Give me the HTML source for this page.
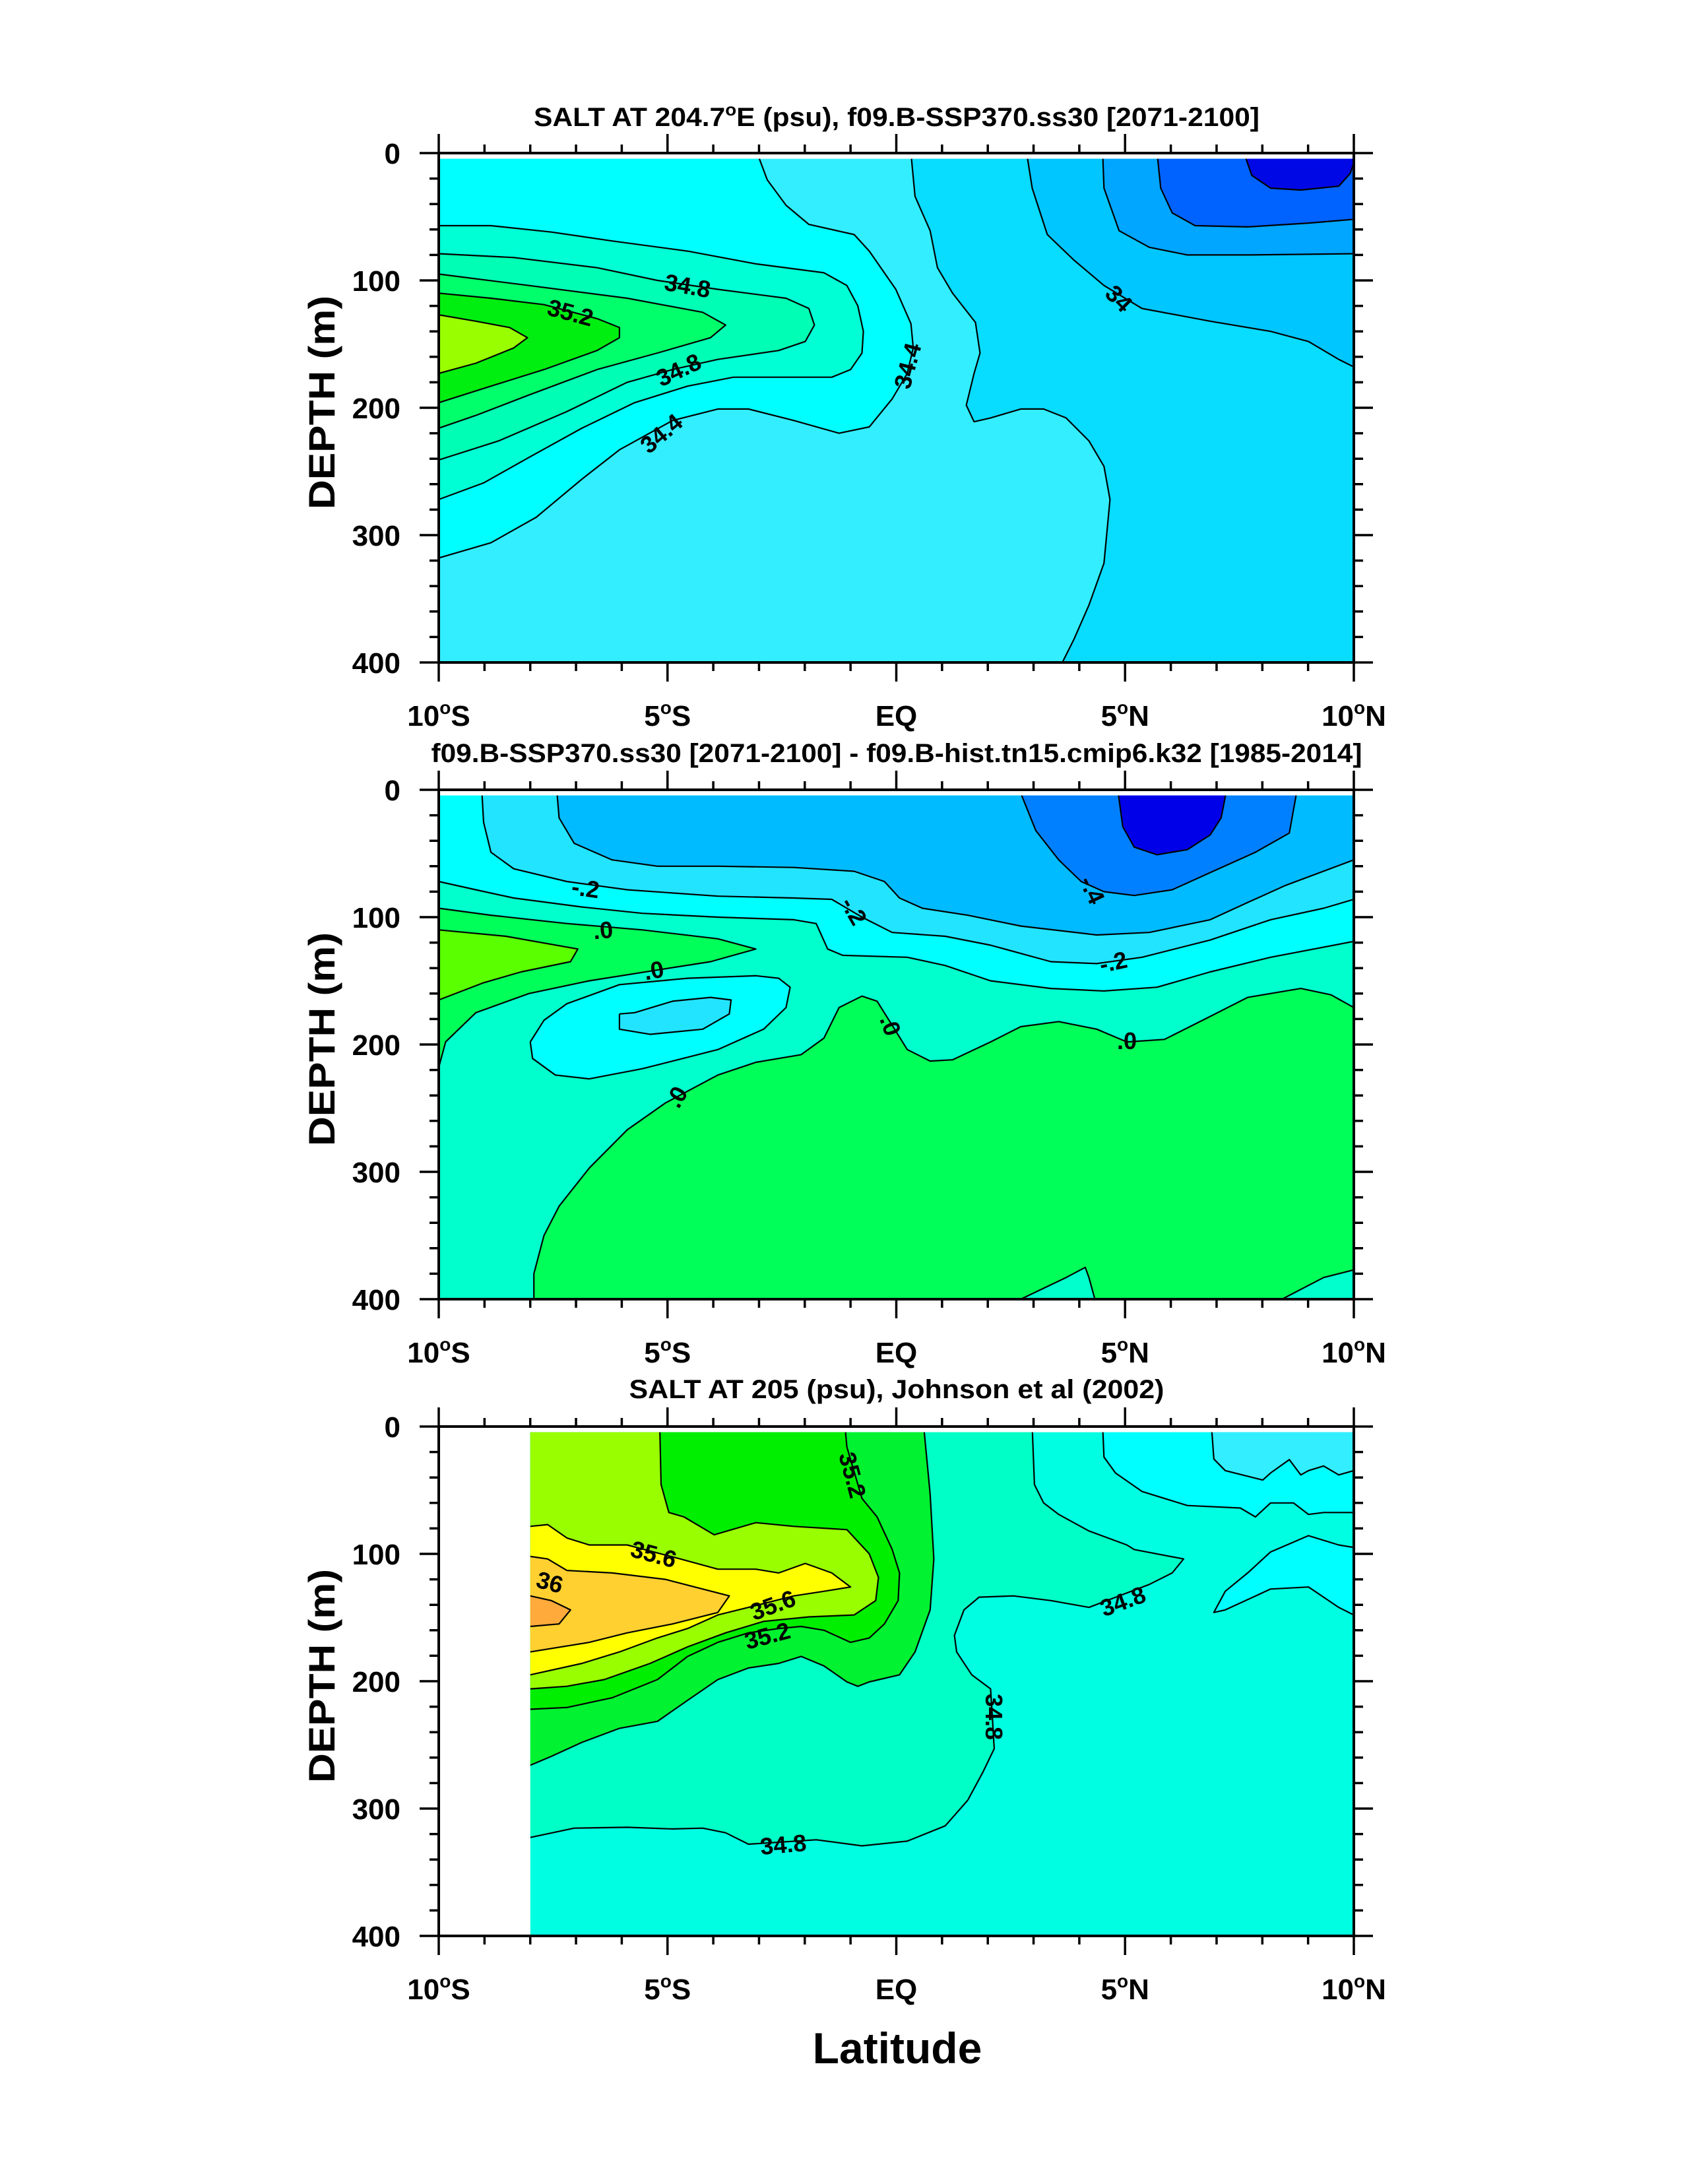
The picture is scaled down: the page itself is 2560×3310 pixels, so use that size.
<!DOCTYPE html>
<html><head><meta charset="utf-8"><style>
html,body{margin:0;padding:0;background:#fff}
svg{display:block}
text{font-family:"Liberation Sans",Arial,sans-serif;font-weight:bold;fill:#000}
</style></head><body>
<svg id="fig" xmlns="http://www.w3.org/2000/svg" width="2560" height="3310" viewBox="0 0 2560 3310">
<rect width="2560" height="3310" fill="#fff"/>
</svg>
<script>
// ---------- axis constants ----------
const latTicksMajor = [-10,-5,0,5,10];
const latTickLabels = ["10","5","EQ","5","10"];
const latTickHemi = ["S","S","","N","N"];
const depthTicksMajor = [0,100,200,300,400];
const depthTickLabels = ["0","100","200","300","400"];

// ---------- panel 1 data (lat, depth) ----------
const p1Cyan = [[-10,318],[-8.86,306],[-7.87,286],[-6.87,256],[-6.05,233],[-4.89,210],[-3.9,201],[-3.23,201],[-2.24,210],[-1.25,220],[-0.59,215],[-0.09,193],[0.24,173],[0.37,153],[0.32,134],[-0.01,107],[-0.59,77],[-0.92,64],[-1.91,56],[-2.41,41],[-2.82,21],[-3.04,0],[-10,0]];
const p1T1 = [[-10,57],[-8.86,57],[-7.54,62],[-6.21,69],[-4.56,77],[-3.07,87],[-1.58,94],[-1.08,104],[-0.84,120],[-0.72,140],[-0.75,157],[-1.0,170],[-1.41,176],[-2.24,176],[-3.56,176],[-4.56,183],[-5.72,196],[-6.87,216],[-8.03,239],[-9.02,259],[-10,272]];
const p1T2 = [[-10,79],[-8.36,82],[-6.54,90],[-5.22,100],[-3.9,107],[-2.41,114],[-1.91,122],[-1.79,135],[-1.99,148],[-2.57,155],[-3.9,162],[-4.89,170],[-5.88,180],[-7.2,203],[-8.69,226],[-10,241]];
const p1T3 = [[-10,95],[-8.03,104],[-5.88,114],[-4.23,125],[-3.73,135],[-4.06,145],[-5.22,157],[-6.54,170],[-8.03,190],[-9.19,206],[-10,216]];
const p1T4 = [[-10,110],[-8.86,114],[-7.7,119],[-6.54,130],[-6.05,137],[-6.05,145],[-6.54,155],[-7.7,170],[-8.86,183],[-10,196]];
const p1T5 = [[-10,127],[-9.19,132],[-8.45,137],[-8.06,145],[-8.36,153],[-9.19,165],[-10,173]];
const p1R1 = [[0.32,0],[0.41,34],[0.74,61],[0.9,90],[1.23,110],[1.73,133],[1.83,157],[1.7,173],[1.53,198],[1.7,211],[2.06,208],[2.72,201],[3.22,201],[3.71,208],[4.21,226],[4.54,246],[4.67,272],[4.54,322],[4.21,355],[3.88,382],[3.63,400],[10,400],[10,0]];
const p1R2 = [[2.85,0],[2.97,27.5],[3.3,64],[3.88,84],[4.54,104],[5.37,122],[6.86,132],[8.18,140],[9.01,148],[9.67,162],[10,168],[10,0]];
const p1R3 = [[4.51,0],[4.54,27.5],[4.87,61],[5.53,74],[6.36,80],[7.68,80],[10,79],[10,0]];
const p1R4 = [[5.7,0],[5.78,27.5],[6.03,47],[6.53,57],[7.68,58],[9.01,55],[10,52],[10,0]];
const p1R5 = [[7.6,0],[7.77,17.5],[8.18,27.5],[8.84,29],[9.67,26],[9.92,16],[10,7.6],[10,0]];
const p1LabelText = ["34.8","35.2","34.8","34.4","34.4","34"];
const p1LabelPos = [[-4.56,104],[-7.12,125],[-4.76,170],[-5.14,220],[0.24,167],[4.87,114]];
const p1LabelRot = [10,15,-25,-40,-75,45];

// ---------- panel 2 data ----------
const p2Green = [[-7.92,400],[-7.92,380],[-7.7,350],[-7.37,327],[-6.71,297],[-5.88,267],[-5.05,246],[-3.9,224],[-3.07,214],[-2.08,208],[-1.58,195],[-1.25,171],[-0.75,162],[-0.42,166],[-0.09,185],[0.24,204],[0.74,213],[1.23,212],[2.06,198],[2.72,186],[3.55,182],[4.38,188],[5.04,198],[5.86,196],[6.86,178],[7.68,163],[8.84,156],[9.5,161],[10,171],[10,377],[9.34,383],[8.43,400],[4.34,400],[4.21,383],[4.13,375],[3.71,383],[2.72,400]];
const p2Tongue = [[-10,93],[-8.86,98.5],[-7.2,105],[-5.55,110],[-3.9,117],[-3.07,125],[-4.06,135],[-5.22,141.5],[-6.71,150],[-8.03,160],[-9.19,175],[-9.85,198],[-10,218]];
const p2TongueCore = [[-10,110],[-8.53,115],[-6.96,125],[-7.12,135],[-8.2,143],[-9.02,151.5],[-10,165]];
const p2Cyan = [[-10,72],[-9.19,78.5],[-8.36,85],[-6.87,92],[-5.55,97],[-3.9,100],[-2.24,102],[-1.75,105],[-1.5,125],[-1.17,130],[0.24,131.5],[1.07,138],[2.06,150],[3.38,156],[4.54,158],[5.7,155],[6.86,143],[8.18,131.5],[10,119],[10,0],[-10,0]];
const p2Light = [[-9.06,0],[-9.02,25.5],[-8.86,49],[-8.36,62],[-7.2,72],[-5.88,78.5],[-3.9,83.5],[-2.24,85],[-1.41,86],[-0.75,100],[-0.09,112],[1.07,115],[2.06,122],[3.38,135],[4.38,136.5],[5.37,131.5],[6.86,118],[8.18,102],[9.34,93],[10,86],[10,0]];
const p2Blue1 = [[-7.42,0],[-7.37,22],[-7.04,42],[-6.21,55],[-5.22,60],[-3.9,60],[-2.24,61],[-0.92,64],[-0.26,72],[0.07,85],[0.57,93],[1.56,98.5],[2.72,107],[4.38,114],[5.53,112],[6.86,102],[7.68,88.5],[8.51,75],[10,55],[10,0]];
const p2Blue2 = [[2.69,0],[3.05,32],[3.55,55],[4.04,72],[4.54,80],[5.2,83],[6.03,78.5],[6.86,65],[7.85,49],[8.59,34],[8.76,0]];
const p2Blue3 = [[4.84,0],[4.95,29],[5.2,45],[5.7,51],[6.36,47],[6.86,35.5],[7.1,22],[7.22,0]];
const p2Lens = [[-8.0,198],[-7.95,211],[-7.45,224],[-6.71,227],[-5.55,219],[-3.9,204],[-2.9,188],[-2.41,171],[-2.32,155],[-2.57,148],[-3.07,146],[-4.56,148],[-6.05,153],[-7.2,168],[-7.7,181],[-8.0,198]];
const p2LensCore = [[-6.05,176],[-6.05,188],[-5.38,192],[-4.23,188],[-3.65,176],[-3.61,165],[-4.06,163],[-4.89,166],[-5.72,175],[-6.05,176]];
const p2LabelText = ["-.2","-.2","-.4","-.2",".0",".0",".0",".0",".0"];
const p2LabelPos = [[-6.79,77],[-0.92,95],[4.29,78.5],[4.74,135],[-6.41,110],[-5.3,141.5],[-0.12,185],[5.04,197],[-4.81,241]];
const p2LabelRot = [8,60,65,-12,-5,-10,70,0,-60];

// ---------- panel 3 data ----------
const p3Mid = [[-8,322.7],[-7.04,315.4],[-5.88,314.7],[-4.89,316],[-4.23,315.4],[-3.73,319],[-3.23,328],[-1.75,324.5],[-0.75,329.3],[0.24,325.6],[1.07,313.6],[1.56,293.5],[1.89,271.6],[2.14,253],[2.1,228],[2.06,206],[1.65,195],[1.32,177],[1.27,164],[1.48,144],[1.81,134],[2.56,133],[3.38,136.7],[4.21,142],[5.53,124],[6.03,115],[6.28,104],[5.2,96.6],[5.04,93],[4.21,82],[3.55,69],[3.22,60],[3.02,45.6],[2.97,0],[-8,0]];
const p3CyanTop = [[4.51,0],[4.54,24],[4.79,36.5],[5.37,51],[6.36,62],[7.52,64],[7.85,71],[8.18,60],[8.68,60],[9.01,69],[9.34,67.5],[10,67.5],[10,0]];
const p3CyanTongue = [[10,95],[9.67,93],[9.01,85.7],[8.18,98.5],[7.68,115],[7.19,129.4],[6.94,146],[7.19,144],[8.18,127.6],[9.01,126],[9.67,142],[10,148]];
const p3LightTop = [[6.89,0],[6.94,25.5],[7.19,34.6],[8.01,42],[8.18,36.5],[8.59,26],[8.84,38],[9.01,34.6],[9.34,31],[9.67,38],[10,34.6],[10,0]];
const p3Q1 = [[0.6,0],[0.74,53],[0.82,104],[0.74,144],[0.41,177],[0.07,195],[-0.59,200.5],[-0.84,204],[-1.08,200.5],[-1.58,188],[-2.08,180.5],[-2.57,186],[-3.23,189.6],[-3.9,198.7],[-4.56,215],[-5.22,231.5],[-6.05,237],[-6.87,248],[-7.54,259],[-8,266],[-8,0]];
const p3Q2 = [[-1.12,0],[-1.08,16],[-0.75,56.5],[-0.42,71],[-0.09,96.6],[0.07,115],[0.04,136.7],[-0.26,155],[-0.59,166],[-1.0,169.5],[-1.58,160],[-2.08,157],[-2.57,158.6],[-3.23,162],[-3.9,169.5],[-4.56,180.5],[-5.22,198.7],[-6.21,213],[-7.2,220.6],[-8,222],[-8,0]];
const p3Q3 = [[-5.17,0],[-5.14,45.6],[-4.97,67.5],[-4.64,71],[-3.98,85],[-3.07,75.5],[-2.24,78.4],[-1.08,81],[-0.59,100],[-0.39,118.5],[-0.45,136.7],[-0.92,148],[-1.91,149.5],[-2.9,153],[-3.73,162],[-4.56,173],[-5.38,186],[-6.38,198.7],[-7.2,204],[-8,206],[-8,0]];
const p3T1 = [[-8,78.4],[-7.62,77],[-7.2,87.5],[-6.71,93],[-5.88,93],[-4.72,104],[-3.9,112],[-3.07,112],[-2.57,115],[-1.99,107.5],[-1.41,115],[-1.0,126],[-1.58,129.4],[-2.24,133],[-3.23,142],[-3.9,148],[-4.56,158.6],[-5.22,166],[-6.05,177],[-6.87,186],[-8,195]];
const p3T2 = [[-8,102],[-7.62,104],[-7.2,113],[-6.21,115],[-5.05,120],[-4.23,127.6],[-3.65,133],[-3.9,146],[-4.89,155],[-5.88,162],[-6.71,169.5],[-8,177]];
const p3T3 = [[-8,133],[-7.54,136.7],[-7.12,144],[-7.37,155],[-8,157]];
const p3LabelText = ["35.2","35.6","36","35.6","35.2","34.8","34.8","34.8"];
const p3LabelPos = [[-0.95,38],[-5.3,100],[-7.57,122],[-2.7,140],[-2.82,164],[4.95,137],[2.14,228],[-2.47,328]];
const p3LabelRot = [75,15,15,-20,-15,-20,90,-5];

// ---------- layout ----------
const X0 = 665, X1 = 2052, PH = 772;
const panelTops = [232, 1197, 2162];
const NS = "http://www.w3.org/2000/svg";
const svg = document.getElementById('fig');
function xs(lat){ return X0 + (lat + 10) / 20 * (X1 - X0); }
function ys(top, d){ return top + d / 400 * PH; }
function mk(tag, attrs, parent){
  const e = document.createElementNS(NS, tag);
  for (const k in attrs) e.setAttribute(k, attrs[k]);
  (parent || svg).appendChild(e);
  return e;
}

const panels = [
  { top: panelTops[0], latMin: -10, bg: "#33EEFF",
    title: ["SALT AT 204.7","E (psu), f09.B-SSP370.ss30 [2071-2100]"], titleBase: 191, titleW: 1100,
    regions: [[p1Cyan,"#00FFFF"],[p1T1,"#00FFD5"],[p1T2,"#00FFB4"],[p1T3,"#00FF6A"],[p1T4,"#00EE10"],[p1T5,"#99FF00"],
              [p1R1,"#08DCFF"],[p1R2,"#00C6FF"],[p1R3,"#00A6FF"],[p1R4,"#0062FF"],[p1R5,"#0008E6"]],
    labels: [p1LabelText, p1LabelPos, p1LabelRot] },
  { top: panelTops[1], latMin: -10, bg: "#00FFCC",
    title: ["f09.B-SSP370.ss30 [2071-2100] - f09.B-hist.tn15.cmip6.k32 [1985-2014]"], titleBase: 1155, titleW: 1411,
    regions: [[p2Green,"#00FF58"],[p2Tongue,"#00FF58"],[p2TongueCore,"#5AFF00"],[p2Cyan,"#00FFFF"],[p2Light,"#22E4FF"],
              [p2Blue1,"#00BBFF"],[p2Blue2,"#0080FF"],[p2Blue3,"#0000E8"],[p2Lens,"#00FFFF"],[p2LensCore,"#22E4FF"]],
    labels: [p2LabelText, p2LabelPos, p2LabelRot] },
  { top: panelTops[2], latMin: -8, bg: "#00FFE2",
    title: ["SALT AT 205 (psu), Johnson et al (2002)"], titleBase: 2119, titleW: 811,
    regions: [[p3Mid,"#00FFC6"],[p3CyanTop,"#00FFFF"],[p3CyanTongue,"#00FFFF"],[p3LightTop,"#33EEFF"],
              [p3Q1,"#00F230"],[p3Q2,"#00EE00"],[p3Q3,"#99FF00"],[p3T1,"#FFFF00"],[p3T2,"#FFD030"],[p3T3,"#FFAA3A"]],
    labels: [p3LabelText, p3LabelPos, p3LabelRot] }
];

panels.forEach((p, pi) => {
  const g = mk('g', {});
  
  
  const cid = 'clip' + pi;
  const defs = mk('defs', {}, g);
  const cp = mk('clipPath', {id: cid}, defs);
  mk('rect', {x: xs(p.latMin), y: ys(p.top, 4.5), width: xs(10) - xs(p.latMin), height: ys(p.top, 400) - ys(p.top, 4.5)}, cp);
  const dg = mk('g', {'clip-path': 'url(#' + cid + ')'}, g);
  
  
  const bgR = mk('rect', {x: xs(p.latMin), y: ys(p.top, 0), width: xs(10) - xs(p.latMin), height: PH, fill: p.bg}, dg);
  
  
  const onB = pt => pt[0] <= p.latMin + 0.001 || pt[0] >= 9.999 || pt[1] <= 0.001 || pt[1] >= 399.999;
  p.regions.forEach((r, ri) => {
    const pts = r[0];
    const d = pts.map((q, i) => (i ? 'L' : 'M') + xs(q[0]).toFixed(1) + ',' + ys(p.top, q[1]).toFixed(1)).join('') + 'Z';
    const f = mk('path', {d: d, fill: r[1], stroke: 'none'}, dg);
    
    
  });
  p.regions.forEach((r, ri) => {
    const pts = r[0];
    let d = '';
    let pen = false;
    for (let i = 1; i < pts.length; i++) {
      const a = pts[i - 1], b = pts[i];
      if (onB(a) && onB(b) && (a[0] === b[0] || a[1] === b[1])) { pen = false; continue; }
      if (!pen) d += 'M' + xs(a[0]).toFixed(1) + ',' + ys(p.top, a[1]).toFixed(1);
      d += 'L' + xs(b[0]).toFixed(1) + ',' + ys(p.top, b[1]).toFixed(1);
      pen = true;
    }
    const l = mk('path', {d: d, fill: 'none', stroke: '#000', 'stroke-width': 2.2, 'stroke-linejoin': 'round'}, dg);
    
    
  });
  const [lt, lp, lr] = p.labels;
  lt.forEach((s, i) => {
    const cx = xs(lp[i][0]), cy = ys(p.top, lp[i][1]);
    const t = mk('text', {x: cx, y: cy + 13, 'font-size': 36, 'text-anchor': 'middle', transform: 'rotate(' + lr[i] + ' ' + cx + ' ' + cy + ')'}, g);
    
    
    t.textContent = s;
  });
  // frame
  const top = p.top, bot = ys(top, 400);
  const fr = mk('rect', {x: X0, y: top, width: X1 - X0, height: PH, fill: 'none', stroke: '#000', 'stroke-width': 4}, g);
  
  
  // x ticks
  let td = '';
  for (let lat = -10; lat <= 10; lat++) {
    const x = xs(lat), major = (lat % 5 === 0), L = major ? 29 : 13;
    td += 'M' + x + ',' + bot + 'v' + L + 'M' + x + ',' + top + 'v' + (-L);
  }
  for (let dep = 0; dep <= 400; dep += 20) {
    const y = ys(top, dep), major = (dep % 100 === 0), L = major ? 29 : 14;
    td += 'M' + X0 + ',' + y + 'h' + (-L) + 'M' + X1 + ',' + y + 'h' + L;
  }
  const tk = mk('path', {d: td, stroke: '#000', 'stroke-width': 3.5, fill: 'none'}, g);
  
  
  latTicksMajor.forEach((lat, i) => {
    const t = mk('text', {x: xs(lat), y: bot + 96, 'font-size': 44, 'text-anchor': 'middle'}, g);
    
    
    t.textContent = latTickLabels[i];
    if (latTickHemi[i]) {
      const s = mk('tspan', {'font-size': 28, dy: -18}, t); s.textContent = 'o';
      const h = mk('tspan', {dy: 18}, t); h.textContent = latTickHemi[i];
    }
  });
  depthTicksMajor.forEach((dep, i) => {
    const t = mk('text', {x: 607, y: ys(top, dep) + 16, 'font-size': 44, 'text-anchor': 'end'}, g);
    
    
    t.textContent = depthTickLabels[i];
  });
  const yt = mk('text', {x: 0, y: 0, 'font-size': 56, 'text-anchor': 'middle', textLength: 324, lengthAdjust: 'spacingAndGlyphs', transform: 'translate(507,' + (top + 378) + ') rotate(-90)'}, g);
  
  
  yt.textContent = 'DEPTH (m)';
  const tt = mk('text', {x: 1359, y: p.titleBase, 'font-size': 40, 'text-anchor': 'middle', textLength: p.titleW, lengthAdjust: 'spacingAndGlyphs'}, g);
  
  
  if (p.title.length > 1) {
    const a = mk('tspan', {}, tt); a.textContent = p.title[0];
    const o = mk('tspan', {'font-size': 26, dy: -16}, tt); o.textContent = 'o';
    const b = mk('tspan', {dy: 16}, tt); b.textContent = p.title[1];
  } else tt.textContent = p.title[0];
});
const xl = mk('text', {x: 1360, y: 3127, 'font-size': 66, 'text-anchor': 'middle'});


xl.textContent = 'Latitude';
</script>
</body></html>
